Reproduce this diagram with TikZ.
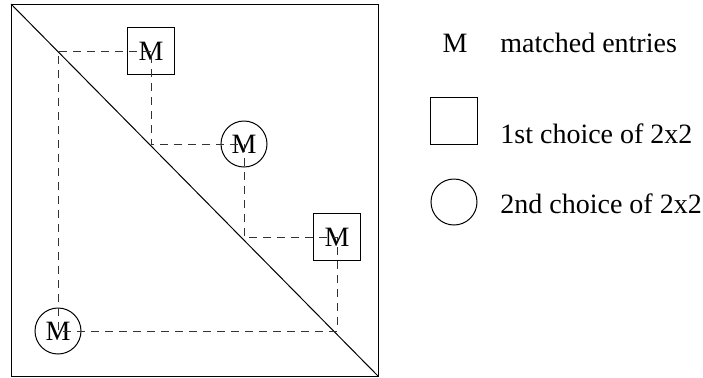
\documentclass[tikz,border=0pt]{standalone}
\usepackage{fontspec}
\setmainfont{Liberation Serif}
\usepackage{tikz}
\usetikzlibrary{positioning}
\tikzset{
  firstbox/.style={rectangle, draw, minimum size=23.5pt, inner sep=0pt,
    font=\fontsize{14}{16}\selectfont, line width=0.5pt},
  secondbox/.style={circle, draw, minimum size=23pt, inner sep=0pt,
    font=\fontsize{14}{16}\selectfont, line width=0.5pt},
  legtext/.style={anchor=base west, inner sep=0pt, font=\fontsize{14}{16}\selectfont},
  link/.style={line width=0.5pt, dash pattern=on 4pt off 3pt, color=black!80},
  line/.style={line width=0.5pt, color=black}
}
\begin{document}
\begin{tikzpicture}[x=0.5pt, y=-0.5pt]
  \useasboundingbox (0,0) rectangle (703,377);

  % frame and diagonal
  \coordinate (tl) at (11,4);
  \coordinate (br) at (378,376);
  \draw[line] (tl) rectangle (br);
  \draw[line] (tl) -- (br);

  % matched entries
  \node[firstbox] (sq1) at (151,51) {M};
  \node[secondbox] (ci1) at (244,144) {M};
  \node[firstbox] (sq2) at (337,237) {M};
  \node[secondbox] (ci2) at (58,331) {M};

  % corners on the diagonal
  \coordinate (d1) at (58,51);
  \coordinate (d2) at (151,144);
  \coordinate (d3) at (244,237);
  \coordinate (d4) at (337,331);

  \draw[link] (sq1.center) -- (d1) -- (ci2.center) -- (d4) -- (sq2.center)
    -- (d3) -- (ci1.center) -- (d2) -- (sq1.center);

  % legend
  \node[anchor=base, inner sep=0pt, font=\fontsize{14}{16}\selectfont] (legm) at (455,52) {M};
  \node[legtext] (legmtxt) at (500,52) {matched entries};
  \node[firstbox] (legsq) at (454,121) {};
  \node[legtext] (legsqtxt) at (500,143) {1st choice of 2x2};
  \node[secondbox] (legci) at (454,202) {};
  \node[legtext] (legcitxt) at (500,213) {2nd choice of 2x2};
\end{tikzpicture}
\end{document}
